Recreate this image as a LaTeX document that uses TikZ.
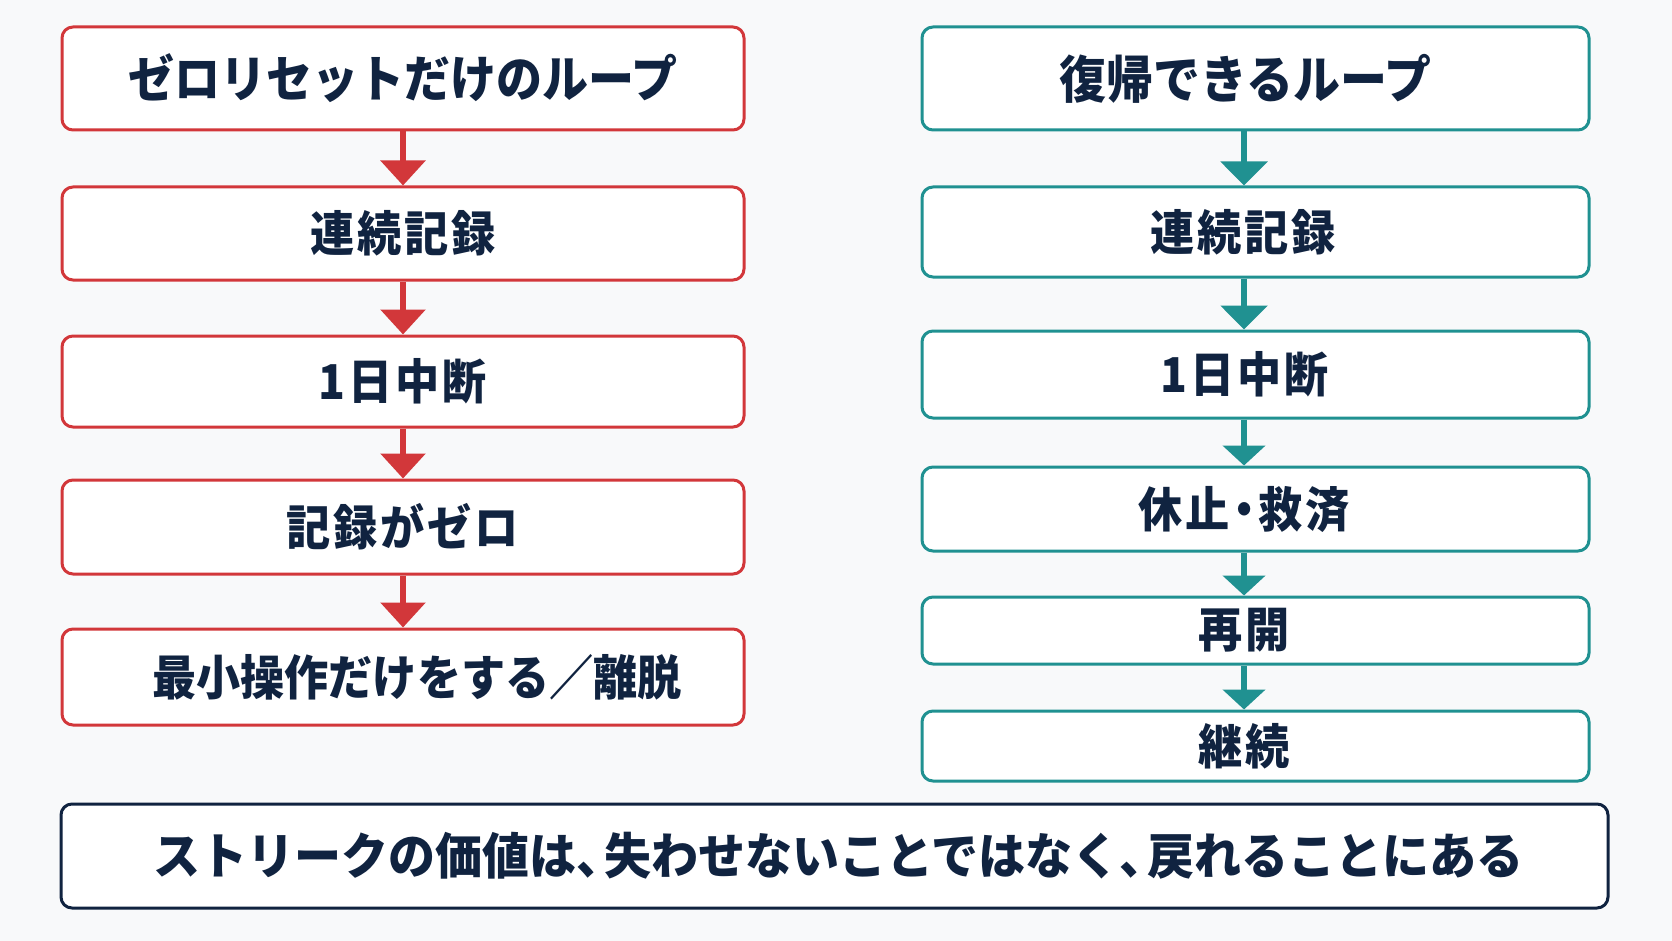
\documentclass[tikz,border=0pt]{standalone}
\usepackage{fontspec}
\newfontfamily\jp{Noto Sans CJK JP}[FakeStretch=0.92]
\newfontfamily\jpb{Noto Sans CJK JP}[FakeStretch=0.95]
\newfontfamily\jpsp{Noto Sans CJK JP}[FakeStretch=0.92,LetterSpace=6]
\usetikzlibrary{arrows.meta}
\definecolor{bg}{RGB}{248,249,250}
\definecolor{redc}{RGB}{210,55,58}
\definecolor{tealc}{RGB}{32,145,145}
\definecolor{navy}{RGB}{16,35,64}
\newcommand{\nc}{\makebox[0.55em][l]{、}}
\newcommand{\ndot}{\makebox[0.6em]{・}}
\tikzset{
  box/.style={draw, line width=3pt, rounded corners=11pt, fill=white, inner sep=0pt, text=navy, font=\jpsp\bfseries\fontsize{48}{54}\selectfont},
  titlefont/.style={font=\jp\bfseries\fontsize{50}{56}\selectfont},
  redbox/.style={box, draw=redc, minimum width=682pt},
  tealbox/.style={box, draw=tealc, minimum width=667pt},
  redarr/.style={draw=redc, line width=6pt, -{Triangle[width=44pt,length=25pt]}},
  tealarr/.style={draw=tealc, line width=6pt, -{Triangle[width=46pt,length=24pt]}},
  tealarrs/.style={draw=tealc, line width=6pt, -{Triangle[width=42pt,length=20pt]}},
}
\begin{document}
\begin{tikzpicture}[x=1pt,y=-1pt]
\fill[bg] (0,0) rectangle (1672,941);
\useasboundingbox (0,0) rectangle (1672,941);
% left column
\node[redbox, minimum height=103pt, titlefont] (L1) at (403,78.5) {ゼロリセットだけのループ};
\node[redbox, minimum height=93pt] (L2) at (403,233.5) {連続記録};
\node[redbox, minimum height=91pt] (L3) at (403,381.5) {1日中断};
\node[redbox, minimum height=94pt] (L4) at (403,527) {記録がゼロ};
\node[redbox, minimum height=96pt, font=\jp\bfseries\fontsize{48}{54}\selectfont] (L5) at (403,677) {\hspace*{28pt}最小操作だけをする／離脱};
\draw[redarr] (L1.south) -- (L2.north);
\draw[redarr] (L2.south) -- (L3.north);
\draw[redarr] (L3.south) -- (L4.north);
\draw[redarr] (L4.south) -- (L5.north);
% right column
\node[tealbox, minimum height=103pt, font=\jp\bfseries\fontsize{51}{56}\selectfont] (R1) at (1255.5,78.5) {\hspace*{-20pt}復帰できるループ};
\node[tealbox, minimum height=90pt] (R2) at (1255.5,232) {\hspace*{-24pt}連続記録};
\node[tealbox, minimum height=87pt] (R3) at (1255.5,374.5) {\hspace*{-22pt}1日中断};
\node[tealbox, minimum height=84pt] (R4) at (1255.5,509) {\hspace*{-22pt}休止\ndot 救済};
\node[tealbox, minimum height=67pt] (R5) at (1255.5,630.5) {\hspace*{-22pt}再開};
\node[tealbox, minimum height=70pt] (R6) at (1255.5,746) {\hspace*{-22pt}継続};
\draw[tealarr] ([xshift=-11.5pt]R1.south) -- ([xshift=-11.5pt]R2.north);
\draw[tealarr] ([xshift=-11.5pt]R2.south) -- ([xshift=-11.5pt]R3.north);
\draw[tealarrs] ([xshift=-11.5pt]R3.south) -- ([xshift=-11.5pt]R4.north);
\draw[tealarrs] ([xshift=-11.5pt]R4.south) -- ([xshift=-11.5pt]R5.north);
\draw[tealarrs] ([xshift=-11.5pt]R5.south) -- ([xshift=-11.5pt]R6.north);
% bottom
\node[box, draw=navy, minimum width=1547pt, minimum height=104pt, font=\jpb\bfseries\fontsize{49.5}{55}\selectfont] (B) at (834.5,856) {\hspace*{8pt}ストリークの価値は\nc 失わせないことではなく\nc 戻れることにある};
\end{tikzpicture}
\end{document}
